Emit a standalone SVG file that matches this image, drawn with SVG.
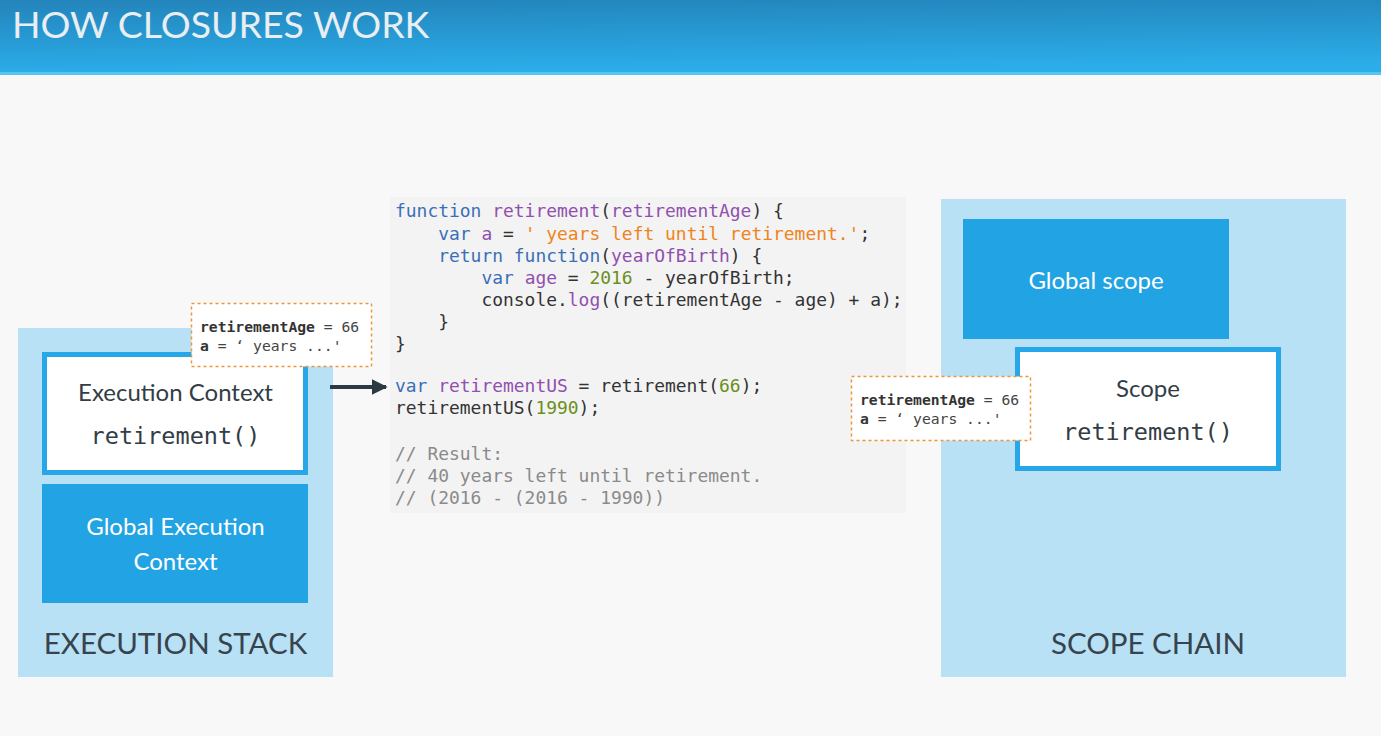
<svg xmlns="http://www.w3.org/2000/svg" width="1381" height="736" viewBox="0 0 1381 736">
<defs>
<linearGradient id="hdr" x1="0" y1="0" x2="0.15" y2="1">
<stop offset="0" stop-color="#2384ba"/>
<stop offset="1" stop-color="#2badea"/>
</linearGradient>
<marker id="arr" viewBox="0 0 10 10" refX="9" refY="5" markerWidth="4" markerHeight="4" orient="auto" markerUnits="strokeWidth">
<path d="M0,0 L10,5 L0,10 z" fill="#2c3a42"/>
</marker>
<style>
.panel{fill:#b8e1f5}
.dark{fill:#22a3e4}
.white{fill:#fff;stroke:#27a7e7;stroke-width:5}
.lbl{font-family:Lato,"Liberation Sans",sans-serif;font-size:24px;text-anchor:middle}
.big{font-family:Lato,"Liberation Sans",sans-serif;font-size:29.5px;fill:#37434d;text-anchor:middle}
.mono{font-family:"DejaVu Sans Mono","Liberation Mono",monospace}
.code{font-family:"DejaVu Sans Mono","Liberation Mono",monospace;font-size:17.95px;fill:#333}
.kw{fill:#3a6fb8}.nm{fill:#9150ae}.st{fill:#ef8320}.nu{fill:#6b8e1c}.cm{fill:#8a8a8a}
.note{fill:#fff;stroke:#f0953a;stroke-width:1.5;stroke-dasharray:3 3}
.nt{font-family:"DejaVu Sans Mono","Liberation Mono",monospace;font-size:14.7px;fill:#444}
</style>
</defs>
<rect x="0" y="0" width="1381" height="736" fill="#f8f8f8"/>
<rect x="0" y="0" width="1381" height="73" fill="url(#hdr)"/>
<rect x="0" y="72" width="1381" height="3" fill="#55c5f2"/>
<text x="12" y="38" font-family="Lato,'Liberation Sans',sans-serif" font-size="37.4" fill="#e8eef1">HOW CLOSURES WORK</text>

<g id="execution-stack">
<rect class="panel" x="18" y="328" width="315" height="349"/>
<text class="big" x="175.5" y="654">EXECUTION STACK</text>
</g>
<g id="execution-context">
<rect class="white" x="44.5" y="354.5" width="261" height="118"/>
<text class="lbl" x="175.5" y="401" fill="#333d45">Execution Context</text>
<text class="mono" x="175.5" y="444" font-size="23.5" fill="#333d45" text-anchor="middle">retirement()</text>
</g>
<g id="global-execution-context">
<rect class="dark" x="42" y="484" width="266" height="119"/>
<text class="lbl" x="175.5" y="535" fill="#fff">Global Execution</text>
<text class="lbl" x="175.5" y="570" fill="#fff">Context</text>
</g>
<g id="note-left">
<rect class="note" x="191.5" y="303.5" width="180" height="63"/>
<text class="nt" x="200" y="332"><tspan font-weight="bold" fill="#333">retirementAge</tspan> = 66</text>
<text class="nt" x="200" y="351"><tspan font-weight="bold" fill="#333">a</tspan> = ‘ years ...'</text>
</g>

<g id="code">
<rect x="390" y="197" width="516" height="316" fill="#f3f3f3"/>
<text class="code" x="395" y="217"><tspan class="kw">function</tspan> <tspan class="nm">retirement</tspan>(<tspan class="nm">retirementAge</tspan>) {</text>
<text class="code" x="395" y="240" xml:space="preserve">    <tspan class="kw">var</tspan> <tspan class="nm">a</tspan> = <tspan class="st">' years left until retirement.'</tspan>;</text>
<text class="code" x="395" y="262" xml:space="preserve">    <tspan class="kw">return</tspan> <tspan class="kw">function</tspan>(<tspan class="nm">yearOfBirth</tspan>) {</text>
<text class="code" x="395" y="284" xml:space="preserve">        <tspan class="kw">var</tspan> <tspan class="nm">age</tspan> = <tspan class="nu">2016</tspan> - yearOfBirth;</text>
<text class="code" x="395" y="306" xml:space="preserve">        console.<tspan class="nm">log</tspan>((retirementAge - age) + a);</text>
<text class="code" x="395" y="328" xml:space="preserve">    }</text>
<text class="code" x="395" y="350">}</text>
<text class="code" x="395" y="392"><tspan class="kw">var</tspan> <tspan class="nm">retirementUS</tspan> = retirement(<tspan class="nu">66</tspan>);</text>
<text class="code" x="395" y="414">retirementUS(<tspan class="nu">1990</tspan>);</text>
<text class="code cm" x="395" y="460">// Result:</text>
<text class="code cm" x="395" y="482">// 40 years left until retirement.</text>
<text class="code cm" x="395" y="504">// (2016 - (2016 - 1990))</text>
</g>

<g id="scope-chain">
<rect class="panel" x="941" y="199" width="405" height="478"/>
<text class="big" x="1148" y="654">SCOPE CHAIN</text>
</g>
<g id="global-scope">
<rect class="dark" x="963" y="219" width="266" height="120"/>
<text class="lbl" x="1096" y="289" fill="#fff">Global scope</text>
</g>
<g id="scope">
<rect class="white" x="1017.5" y="349.5" width="261" height="119"/>
<text class="lbl" x="1148" y="397" fill="#333d45">Scope</text>
<text class="mono" x="1148" y="440" font-size="23.5" fill="#333d45" text-anchor="middle">retirement()</text>
</g>
<g id="note-right">
<rect class="note" x="851.5" y="376.5" width="179" height="64"/>
<text class="nt" x="860" y="405"><tspan font-weight="bold" fill="#333">retirementAge</tspan> = 66</text>
<text class="nt" x="860" y="424"><tspan font-weight="bold" fill="#333">a</tspan> = ‘ years ...'</text>
</g>

<g id="connectors">
<line x1="330" y1="387" x2="386" y2="387" stroke="#2c3a42" stroke-width="4" marker-end="url(#arr)"/>
</g>
</svg>
